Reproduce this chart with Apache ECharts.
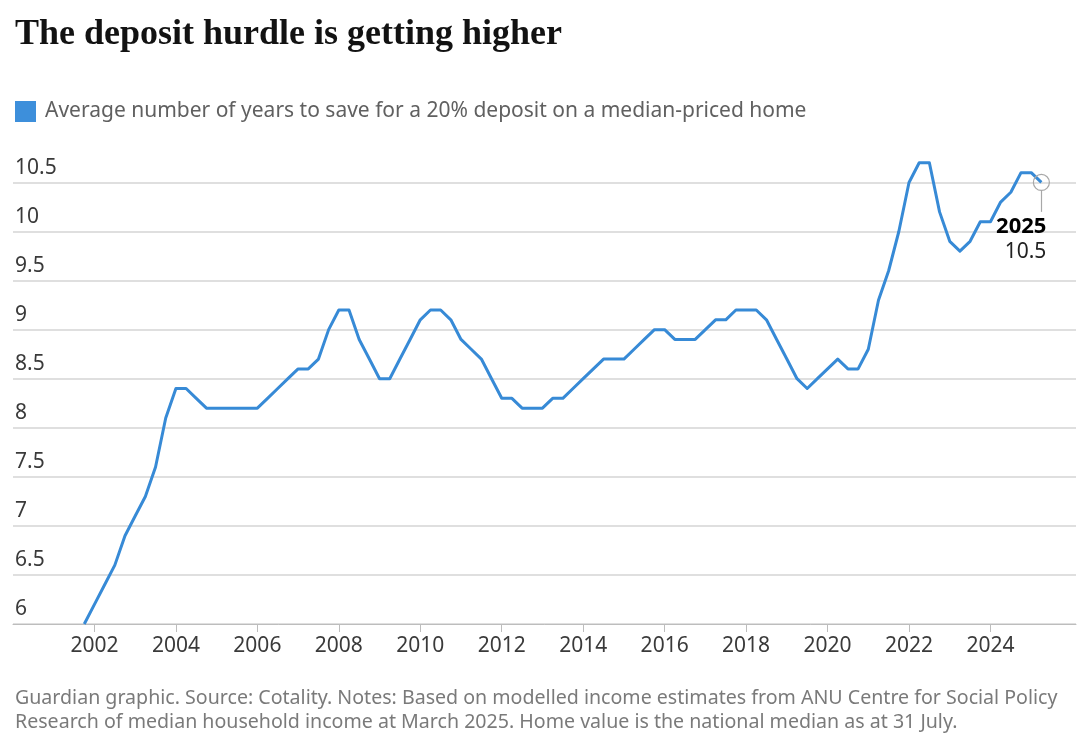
<!DOCTYPE html>
<html>
<head>
<meta charset="utf-8">
<title>The deposit hurdle is getting higher</title>
<script src="https://cdn.jsdelivr.net/npm/echarts@6/dist/echarts.min.js"></script>
<style>
  html, body { margin: 0; padding: 0; background: #fff; }
  #chart { width: 1080px; height: 752px; }
</style>
</head>
<body>
<div id="chart"></div>
<script>
// quarterly readings, first one is the last quarter of 2001
const firstQuarter = 2001.75;
const quarterStep = 0.25;
const seriesName = 'Average number of years to save for a 20% deposit on a median-priced home';
const yearsToSave = [
  6.0, 6.2, 6.4, 6.6, 6.9, 7.1, 7.3, 7.6, 8.1, 8.4,
  8.4, 8.3, 8.2, 8.2, 8.2, 8.2, 8.2, 8.2, 8.3, 8.4,
  8.5, 8.6, 8.6, 8.7, 9.0, 9.2, 9.2, 8.9, 8.7, 8.5,
  8.5, 8.7, 8.9, 9.1, 9.2, 9.2, 9.1, 8.9, 8.8, 8.7,
  8.5, 8.3, 8.3, 8.2, 8.2, 8.2, 8.3, 8.3, 8.4, 8.5,
  8.6, 8.7, 8.7, 8.7, 8.8, 8.9, 9.0, 9.0, 8.9, 8.9,
  8.9, 9.0, 9.1, 9.1, 9.2, 9.2, 9.2, 9.1, 8.9, 8.7,
  8.5, 8.4, 8.5, 8.6, 8.7, 8.6, 8.6, 8.8, 9.3, 9.6,
  10.0, 10.5, 10.7, 10.7, 10.2, 9.9, 9.8, 9.9, 10.1, 10.1,
  10.3, 10.4, 10.6, 10.6, 10.5
];
const yearTicks = [2002, 2004, 2006, 2008, 2010, 2012, 2014, 2016, 2018, 2020, 2022, 2024];
const valueTicks = [6, 6.5, 7, 7.5, 8, 8.5, 9, 9.5, 10, 10.5];
const lastLabelYear = '2025';

const points = yearsToSave.map((v, i) => [firstQuarter + i * quarterStep, v]);
const last = points[points.length - 1];

const chart = echarts.init(document.getElementById('chart'));

const labelFont = '"Noto Sans", sans-serif';

chart.setOption({
  animation: false,
  title: [
    {
      text: 'The deposit hurdle is getting higher',
      left: 10,
      top: 12,
      textStyle: {
        fontFamily: '"Liberation Serif", serif',
        fontWeight: 'bold',
        fontSize: 36,
        color: '#121212'
      }
    },
    {
      text: 'Guardian graphic. Source: Cotality. Notes: Based on modelled income estimates from ANU Centre for Social Policy\nResearch of median household income at March 2025. Home value is the national median as at 31 July.',
      left: 10,
      top: 681,
      textStyle: {
        fontFamily: labelFont,
        fontWeight: 'normal',
        fontSize: 19.6,
        lineHeight: 24,
        color: '#7a7a7a'
      }
    }
  ],
  legend: {
    left: 15,
    top: 101,
    padding: 0,
    icon: 'rect',
    itemWidth: 21,
    itemHeight: 21,
    itemGap: 20,
    textStyle: {
      fontFamily: labelFont,
      fontSize: 21,
      color: '#606060',
      padding: [2, 0, 0, 4]
    },
    data: [seriesName]
  },
  grid: {
    left: 13,
    right: 4,
    top: 153,
    bottom: 128,
    containLabel: false
  },
  xAxis: {
    type: 'value',
    min: 2000,
    max: 2026.1,
    axisLine: { show: true, lineStyle: { color: '#bdbdbd', width: 1 } },
    axisTick: {
      show: true,
      length: 8,
      customValues: yearTicks,
      lineStyle: { color: '#bdbdbd', width: 1 }
    },
    axisLabel: {
      customValues: yearTicks,
      margin: 12,
      fontFamily: labelFont,
      fontSize: 21,
      color: '#3a3a3a',
      formatter: v => String(v)
    },
    splitLine: { show: false }
  },
  yAxis: {
    type: 'value',
    min: 6,
    max: 10.8,
    axisLine: { show: false },
    axisTick: { show: false, customValues: valueTicks },
    axisLabel: {
      customValues: valueTicks,
      inside: true,
      margin: 2,
      verticalAlign: 'bottom',
      padding: [0, 0, 4, 0],
      fontFamily: labelFont,
      fontSize: 21,
      color: '#3a3a3a'
    },
    splitLine: { show: true, lineStyle: { color: '#d4d4d4', width: 1.5 } }
  },
  series: [
    {
      name: seriesName,
      type: 'line',
      data: points,
      showSymbol: false,
      symbol: 'none',
      lineStyle: { color: '#378ad6', width: 3, join: 'round' },
      itemStyle: { color: '#3d8fdb' },
      markLine: {
        silent: true,
        symbol: 'none',
        label: { show: false },
        lineStyle: { color: '#a8a8a8', width: 1.2, type: 'solid' },
        data: [[{ coord: [last[0], last[1] - 0.08] }, { coord: [last[0], last[1] - 0.3] }]]
      },
      markPoint: {
        silent: true,
        data: [
          {
            coord: last,
            symbol: 'circle',
            symbolSize: 16,
            itemStyle: { color: 'rgba(255,255,255,0)', borderColor: '#a8a8a8', borderWidth: 1.2 },
            label: { show: false }
          },
          {
            coord: [last[0], last[1] - 0.3],
            symbol: 'circle',
            symbolSize: 1,
            itemStyle: { color: 'rgba(255,255,255,0)' },
            label: {
              show: true,
              position: 'bottom',
              align: 'right',
              distance: 1,
              offset: [5, 0],
              formatter: '{y|' + lastLabelYear + '}\n{v|' + last[1] + '}',
              rich: {
                y: { fontFamily: labelFont, fontWeight: 'bold', fontSize: 22, lineHeight: 26, color: '#000', align: 'right' },
                v: { fontFamily: labelFont, fontSize: 21, lineHeight: 26, color: '#222', align: 'right' }
              }
            }
          }
        ]
      }
    }
  ]
});
</script>
</body>
</html>
